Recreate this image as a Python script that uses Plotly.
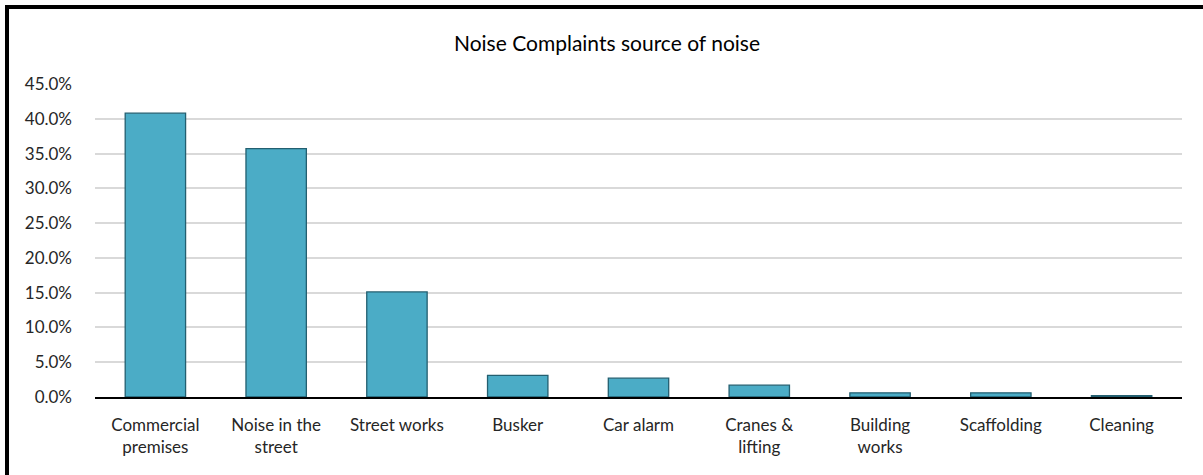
"""
Noise complaints by source of noise - bar chart
"""

import plotly.graph_objects as go

# Data
categories = [
    "Commercial<br>premises",
    "Noise in the<br>street",
    "Street works",
    "Busker",
    "Car alarm",
    "Cranes &<br>lifting",
    "Building<br>works",
    "Scaffolding",
    "Cleaning",
]
shares = [0.408, 0.357, 0.151, 0.031, 0.027, 0.017, 0.006, 0.006, 0.002]

tick_vals = [0, 0.05, 0.10, 0.15, 0.20, 0.25, 0.30, 0.35, 0.40, 0.45]

W, H = 1203, 475
L, R, T, B = 95, 21, 84, 78

fig = go.Figure()

fig.add_trace(go.Bar(
    x=categories,
    y=shares,
    marker=dict(color='#4BACC6', line=dict(color='#235F70', width=1.3)),
    hovertemplate='%{x}: %{y:.1%}<extra></extra>',
))

# outer chart frame (thick black on left/top, as in the source image)
pw = W - L - R
ph = H - T - B
fig.add_shape(
    type='rect', xref='paper', yref='paper',
    x0=(7 - L) / pw, x1=(W + 20 - L) / pw,
    y0=-(H + 20 - T - ph) / ph, y1=(T + ph - 7) / ph,
    line=dict(color='black', width=4),
    layer='below',
)

fig.update_layout(
    width=W, height=H,
    margin=dict(l=L, r=R, t=T, b=B, autoexpand=False),
    paper_bgcolor='white',
    plot_bgcolor='white',
    font=dict(family='Lato, Open Sans, sans-serif', size=17, color='#262626'),
    title=dict(
        text='Noise Complaints source of noise',
        x=607 / W, xanchor='center', xref='container',
        y=1 - 44 / H, yanchor='middle', yref='container',
        font=dict(size=21, color='#000000'),
    ),
    bargap=0.5,
    showlegend=False,
)

fig.update_yaxes(
    range=[0, 0.45],
    tickvals=tick_vals,
    tickformat='.1%',
    showgrid=True, gridcolor='#D9D9D9', gridwidth=1.5,
    zeroline=False,
    showline=False,
    automargin=False,
    ticklabelstandoff=22,
)

fig.update_xaxes(
    showline=True, linecolor='#000000', linewidth=1.5,
    showgrid=False,
    ticks='',
    automargin=False,
    ticklabelstandoff=12,
)

# drop the default page margin so the figure sits at the window's corner
fig.write_html(
    "out.html",
    config={'displayModeBar': False},
    post_script="document.body.style.margin='0';document.body.style.overflow='hidden';",
)
